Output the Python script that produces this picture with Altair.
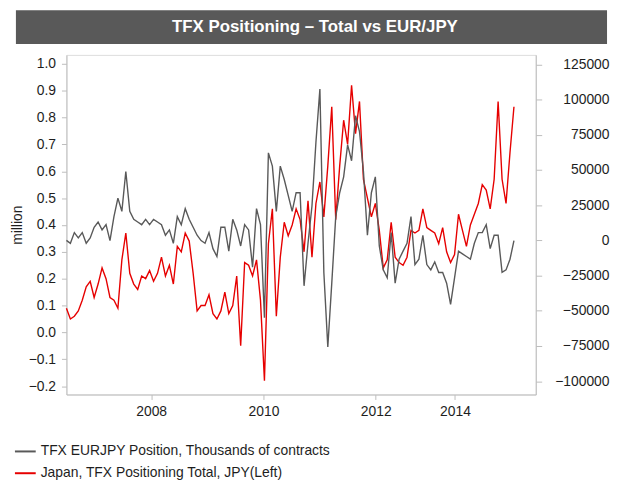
import altair as alt
import pandas as pd

TITLE = "TFX Positioning \u2013 Total vs EUR/JPY"
SERIES = ["TFX EURJPY Position, Thousands of contracts",
          "Japan, TFX Positioning Total, JPY(Left)"]
COLORS = ["#595959", "#e60000"]

# Japan, TFX Positioning Total (million, left axis), evenly spaced observations
RED = [0.09, 0.05, 0.06, 0.08, 0.12, 0.17, 0.19, 0.13, 0.18, 0.24,
       0.20, 0.13, 0.12, 0.09, 0.27, 0.37, 0.22, 0.18, 0.16, 0.21,
       0.20, 0.23, 0.19, 0.22, 0.28, 0.21, 0.25, 0.18, 0.32, 0.30,
       0.37, 0.34, 0.22, 0.08, 0.10, 0.10, 0.14, 0.07, 0.05, 0.08,
       0.15, 0.07, 0.10, 0.21, -0.05, 0.26, 0.25, 0.21, 0.27, 0.12,
       -0.18, 0.33, 0.46, 0.06, 0.28, 0.41, 0.36, 0.40, 0.46, 0.42,
       0.30, 0.49, 0.28, 0.48, 0.56, 0.43, 0.62, 0.84, 0.42, 0.62,
       0.79, 0.70, 0.92, 0.74, 0.86, 0.57, 0.50, 0.43, 0.48, 0.38,
       0.24, 0.27, 0.41, 0.28, 0.26, 0.25, 0.28, 0.38, 0.37, 0.38,
       0.46, 0.39, 0.38, 0.37, 0.33, 0.39, 0.30, 0.26, 0.29, 0.44,
       0.38, 0.32, 0.40, 0.44, 0.48, 0.55, 0.53, 0.46, 0.57, 0.86,
       0.57, 0.48, 0.67, 0.84]

# TFX EURJPY Position (contracts, right axis)
GREY = [0, -2100, 5500, 1700, 5500, -2100, 1700, 9300, 13000, 7400,
        11100, -200, 16800, 30000, 20600, 48900, 20600, 14900, 13000, 11100,
        14900, 11100, 14900, 13000, 11100, 3600, 7400, -2100, 16800, 11100,
        22500, 14900, 9300, 3600, -200, -2100, 5500, -5900, -11500, 9300,
        9300, -7700, 14900, 7400, -4000, 11100, 7400, -19100, 22500, 11100,
        -54900, 62100, 52700, 20600, 52700, 43200, 31900, 20600, 33800, 33800,
        -32300, -2100, 24400, 69700, 107400, -22800, -75700, -30400, 16800, 33800,
        45100, 67800, 56500, 88500, 77200, 48900, 3600, 33800, 45100, -4000,
        -21000, -26600, 5500, -30400, -13400, -7700, -2100, 16800, -17200, -13400,
        3600, -17200, -21000, -15300, -22800, -22800, -30400, -45500, -26600, -7700,
        -9600, -11500, -13400, -2100, 5500, 5500, 11100, -5900, 3600, 3600,
        -22800, -21000, -13400, -200]

TICK_POS = [21.4, 49.75, 78.1, 98.1]
TICK_LABELS = ["2008", "2010", "2012", "2014"]
LEFT_TICKS = [-0.2, -0.1, 0.0, 0.1, 0.2, 0.3, 0.4, 0.5, 0.6, 0.7, 0.8, 0.9, 1.0]
RIGHT_TICKS = [-100000, -75000, -50000, -25000, 0, 25000, 50000, 75000, 100000, 125000]

FONT = "Liberation Sans"
AXIS_C = "#bdbdbd"
TEXT_C = "#1e1e1e"

df_red = pd.DataFrame({"obs": list(range(len(RED))), "value": RED, "series": SERIES[1]})
df_grey = pd.DataFrame({"obs": list(range(len(GREY))), "value": GREY, "series": SERIES[0]})
df_title = pd.DataFrame({"title": [TITLE]})

label_expr = " : ".join(
    f"abs(datum.value - {p}) < 0.5 ? '{l}'" for p, l in zip(TICK_POS, TICK_LABELS)
) + " : ''"

x_enc = alt.X(
    "obs:Q",
    scale=alt.Scale(domain=[0, 118.5], nice=False, zero=False),
    axis=alt.Axis(values=TICK_POS, labelExpr=label_expr, title=None, grid=False,
                  domainColor=AXIS_C, tickColor=AXIS_C, tickSize=5, labelPadding=5,
                  labelFontSize=14, labelFont=FONT, labelColor=TEXT_C),
)

color_enc = alt.Color(
    "series:N",
    scale=alt.Scale(domain=SERIES, range=COLORS),
    legend=alt.Legend(title=None, orient="none", legendX=-53, legendY=389,
                      direction="vertical", symbolType="stroke", symbolSize=441,
                      symbolStrokeWidth=2, labelFontSize=14, labelFont=FONT,
                      labelColor=TEXT_C, labelOffset=4, rowPadding=3, padding=0,
                      labelLimit=600),
)

grey_line = alt.Chart(df_grey).mark_line(strokeWidth=1.4).encode(
    x=x_enc,
    y=alt.Y("value:Q",
            scale=alt.Scale(domain=[-109490, 131680], nice=False, zero=False),
            axis=alt.Axis(orient="right", values=RIGHT_TICKS, format="d", title=None,
                          grid=False, domainColor=AXIS_C, tickColor=AXIS_C, tickSize=6,
                          labelAlign="right", labelPadding=68, labelFontSize=14,
                          labelFont=FONT, labelColor=TEXT_C)),
    color=color_enc,
)

red_line = alt.Chart(df_red).mark_line(strokeWidth=1.4).encode(
    x=x_enc,
    y=alt.Y("value:Q",
            scale=alt.Scale(domain=[-0.2313, 1.0332], nice=False, zero=False),
            axis=alt.Axis(orient="left", values=LEFT_TICKS, format=".1f", title="million",
                          grid=False, domainColor=AXIS_C, tickColor=AXIS_C, tickSize=5,
                          labelPadding=6, labelFontSize=14, labelFont=FONT,
                          labelColor=TEXT_C, titleFont=FONT, titleFontSize=14,
                          titleFontWeight="normal", titleColor=TEXT_C, titlePadding=4)),
    color=color_enc,
)

title_bar = alt.Chart(df_title).mark_rect(color="#595959").encode(
    x=alt.value(-51), x2=alt.value(546), y=alt.value(-45), y2=alt.value(-11)
)
title_text = alt.Chart(df_title).mark_text(
    color="white", fontSize=17, fontWeight="bold", font=FONT,
    align="center", baseline="middle"
).encode(x=alt.value(251), y=alt.value(-28), text="title:N")

chart = alt.layer(red_line, grey_line, title_bar, title_text).resolve_scale(
    y="independent"
).properties(
    width=474, height=343,
    autosize=alt.AutoSizeParams(type="none"),
    padding={"left": 59, "top": 45, "right": 75, "bottom": 86},
).configure_view(stroke=None).configure(background="white")

chart.save("out.html", embed_options={"renderer": "svg", "actions": False})
